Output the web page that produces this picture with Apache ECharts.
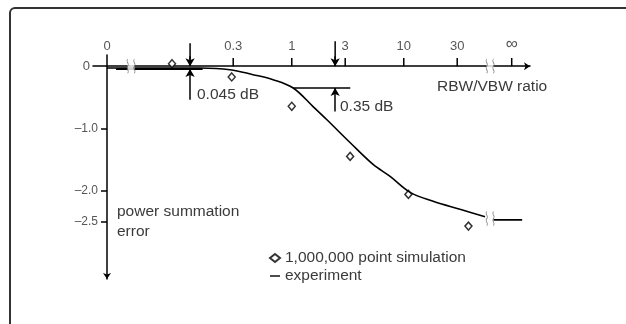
<!DOCTYPE html>
<html>
<head>
<meta charset="utf-8">
<script src="https://cdn.jsdelivr.net/npm/echarts@6.0.0/dist/echarts.min.js"></script>
<style>
  html, body { margin: 0; padding: 0; background: #fff; }
  #chart { width: 626px; height: 324px; }
</style>
</head>
<body>
<div id="chart"></div>
<script>
// where the two special ticks sit on the log ratio axis
const ZERO_POS = 0.0224
const INF_POS = 92

const xTickValues = [ZERO_POS, 0.3, 1, 3, 10, 30, INF_POS]
const xTickLabels = ['0', '0.3', '1', '3', '10', '30', '∞']
const yTickValues = [0, -1, -2, -2.5]
const yTickLabels = ['0', '–1.0', '–2.0', '–2.5']

// experiment curve
const expRatio = [0.0224, 0.152, 0.281, 0.451, 0.681, 1.03, 1.55, 2.05, 3.31, 5.32, 7.55, 11.4, 18.3, 31.8, 53.2]
const expDb = [-0.03, -0.03, -0.056, -0.136, -0.216, -0.35, -0.649, -0.857, -1.226, -1.579, -1.771, -2.027, -2.17, -2.30, -2.42]
// after the axis break, towards infinity
const tailRatio = [62.7, 114]
const tailDb = [-2.47, -2.47]

// 1,000,000 point simulation
const simRatio = [0.0853, 0.291, 1.0, 3.32, 11.0, 37.8]
const simDb = [0.04, -0.173, -0.644, -1.45, -2.06, -2.57]

// axis break marks
const breakRatio = [0.0367, 59, 59]
const breakDb = [0, 0, -2.45]

// dimension arrows: 0.045 dB and 0.35 dB
const annotRatio = [0.1236, 2.44]
const annotDb = [-0.045, -0.35]
const annotTop = [0.37, 0.40]
const annotBottom = [-0.54, -0.73]
const annotText = ['0.045 dB', '0.35 dB']

const textColor = '#3a3a3a'
const tickColor = '#555'
const fontFamily = '"Liberation Sans", Arial, sans-serif'

const zip = (xs, ys) => xs.map((x, i) => [x, ys[i]])

// arrow heads (inside the y range) go through markLine, the long shafts
// above the plot top through plain line series that are not clipped
const arrowLines = []
const shaftSeries = []
annotRatio.forEach((r, i) => {
  arrowLines.push([{ coord: [r, 0.16] }, { coord: [r, 0] }])
  arrowLines.push([{ coord: [r, annotBottom[i]] }, { coord: [r, annotDb[i]] }])
  shaftSeries.push({
    name: 'shaft' + i,
    type: 'line',
    clip: false,
    silent: true,
    symbol: 'none',
    data: [[r, annotTop[i]], [r, 0.1]],
    lineStyle: { color: '#000', width: 1.5 }
  })
})

// x ticks: one short vertical line series per tick, standing on the axis
const tickSeries = xTickValues.slice(1).map((v, i) => ({
  name: 'xTick' + i,
  type: 'line',
  silent: true,
  symbol: 'none',
  z: 4,
  data: [[v, 0], [v, 0.13]],
  lineStyle: { color: '#000', width: 1.5 }
}))

const chart = echarts.init(document.getElementById('chart'), null, { renderer: 'canvas' })

const option = {
  animation: false,
  backgroundColor: '#fff',
  textStyle: { fontFamily },
  grid: { left: 93, right: 96, top: 55, bottom: 45 },
  legend: {
    left: 264,
    top: 245,
    orient: 'vertical',
    itemGap: 2,
    itemWidth: 10,
    itemHeight: 8,
    textStyle: { fontSize: 15.5, color: textColor, fontFamily },
    data: [
      { name: '1,000,000 point simulation', icon: 'diamond' },
      { name: 'experiment', icon: 'path://M0,0h10v1.4h-10z' }
    ]
  },
  xAxis: {
    type: 'log',
    min: 0.0168,
    max: 134,
    position: 'top',
    axisLine: {
      onZero: true,
      lineStyle: { color: '#000', width: 1.5 },
      symbol: ['none', 'arrow'],
      symbolSize: [6, 6]
    },
    axisTick: { show: false },
    axisLabel: {
      customValues: xTickValues,
      margin: 2,
      fontSize: 13,
      color: tickColor,
      formatter: (v) => {
        const i = xTickValues.findIndex((t) => Math.abs(t - v) / t < 1e-6)
        if (i === xTickValues.length - 1) return '{inf|' + xTickLabels[i] + '}'
        return i >= 0 ? xTickLabels[i] : ''
      },
      rich: { inf: { fontSize: 17, color: tickColor } }
    },
    splitLine: { show: false },
    minorTick: { show: false }
  },
  yAxis: {
    type: 'value',
    min: -3.42,
    max: 0.18,
    offset: -14,
    axisLine: {
      show: true,
      lineStyle: { color: '#000', width: 1.5 },
      symbol: ['arrow', 'none'],
      symbolSize: [6, 6]
    },
    axisTick: {
      show: true,
      customValues: yTickValues.slice(1),
      length: 6,
      lineStyle: { color: '#000', width: 1.5 }
    },
    axisLabel: {
      customValues: yTickValues,
      margin: 9,
      fontSize: 12,
      color: tickColor,
      formatter: (v) => {
        const i = yTickValues.findIndex((t) => Math.abs(t - v) < 1e-6)
        if (i === 0) return '{z|' + yTickLabels[0] + '}'
        return i >= 0 ? yTickLabels[i] : ''
      },
      rich: { z: { fontSize: 13, color: tickColor, padding: [0, 8, 0, 0] } }
    },
    splitLine: { show: false }
  },
  series: [
    {
      name: 'experiment',
      type: 'line',
      data: zip(expRatio, expDb),
      smooth: 0.35,
      showSymbol: false,
      symbol: 'none',
      lineStyle: { color: '#000', width: 1.6 },
      itemStyle: { color: '#000' },
      markLine: {
        silent: true,
        symbol: ['none', 'arrow'],
        symbolSize: [7, 8],
        label: { show: false },
        lineStyle: { color: '#000', width: 1.5, type: 'solid' },
        data: arrowLines.concat([
          [
            { coord: [1.03, annotDb[1]], symbol: 'none' },
            { coord: [3.33, annotDb[1]], symbol: 'none' }
          ],
          [
            { coord: [0.027, annotDb[0]], symbol: 'none', lineStyle: { width: 2 } },
            { coord: [0.16, annotDb[0]], symbol: 'none' }
          ]
        ])
      }
    },
    {
      name: 'experiment',
      type: 'line',
      data: zip(tailRatio, tailDb),
      showSymbol: false,
      symbol: 'none',
      lineStyle: { color: '#000', width: 1.6 }
    },
    ...shaftSeries,
    ...tickSeries,
    {
      name: '1,000,000 point simulation',
      type: 'scatter',
      data: zip(simRatio, simDb),
      symbol: 'diamond',
      symbolSize: [7, 8],
      itemStyle: { color: '#fff', borderColor: '#000', borderWidth: 1.5 }
    },
    {
      name: 'breakMask',
      type: 'scatter',
      silent: true,
      data: zip(breakRatio, breakDb),
      symbol: 'rect',
      symbolSize: [7, 13],
      itemStyle: { color: '#fff' },
      z: 5
    },
    {
      name: 'breakMark',
      type: 'scatter',
      silent: true,
      data: zip(breakRatio, breakDb),
      symbol: 'path://M2,0 C0,3 4,5 2,8 C0,11 4,13 2,16 M8,0 C6,3 10,5 8,8 C6,11 10,13 8,16',
      symbolSize: [8, 14],
      itemStyle: { color: 'transparent', borderColor: '#666', borderWidth: 1 },
      z: 6
    }
  ],
  graphic: [
    {
      type: 'rect',
      shape: { x: 10, y: 8, width: 700, height: 400, r: 5 },
      style: { fill: 'none', stroke: '#333', lineWidth: 2 },
      silent: true
    },
    {
      type: 'text',
      left: 437,
      top: 79,
      style: { text: 'RBW/VBW ratio', fontSize: 15.5, fill: textColor, fontFamily }
    },
    {
      type: 'text',
      left: 117,
      top: 202,
      style: { text: 'power summation\nerror', fontSize: 15.5, lineHeight: 20, fill: textColor, fontFamily }
    },
    {
      type: 'text',
      left: 197,
      top: 87,
      style: { text: annotText[0], fontSize: 15.5, fill: textColor, fontFamily }
    },
    {
      type: 'text',
      left: 340,
      top: 99,
      style: { text: annotText[1], fontSize: 15.5, fill: textColor, fontFamily }
    }
  ]
}

chart.setOption(option)
</script>
</body>
</html>
